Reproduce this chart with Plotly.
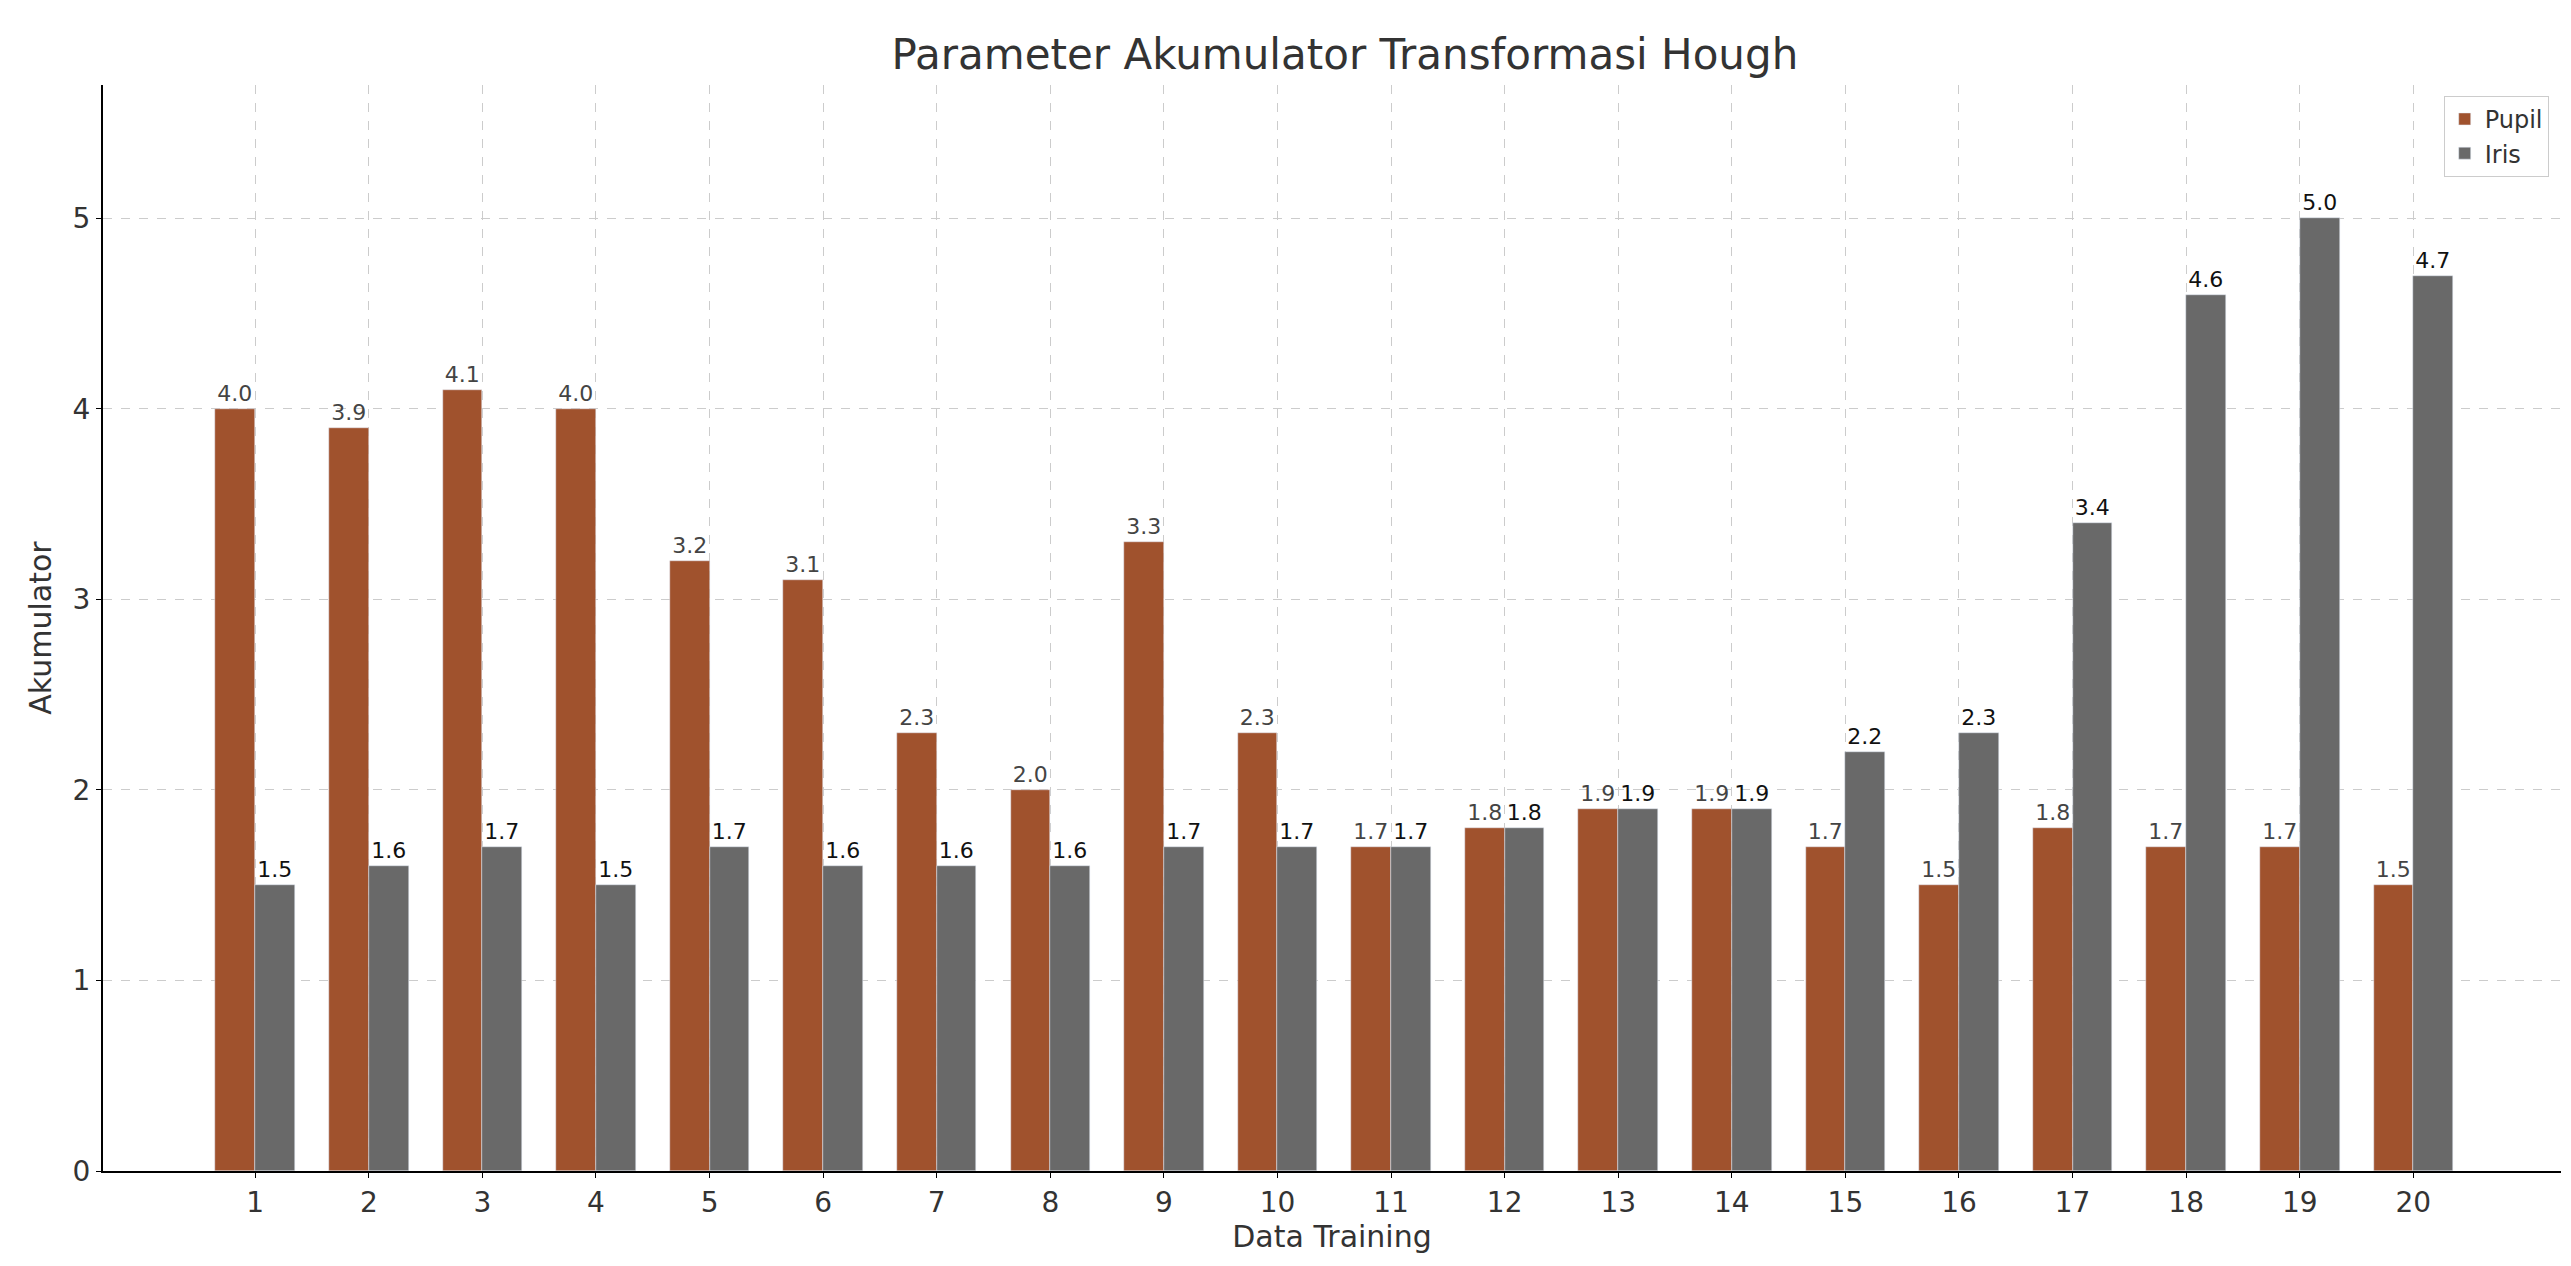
import plotly.graph_objects as go

training = list(range(1, 21))
pupil = [4.0, 3.9, 4.1, 4.0, 3.2, 3.1, 2.3, 2.0, 3.3, 2.3, 1.7, 1.8, 1.9, 1.9, 1.7, 1.5, 1.8, 1.7, 1.7, 1.5]
iris = [1.5, 1.6, 1.7, 1.5, 1.7, 1.6, 1.6, 1.6, 1.7, 1.7, 1.7, 1.8, 1.9, 1.9, 2.2, 2.3, 3.4, 4.6, 5.0, 4.7]

w = 0.35
fig = go.Figure()
fig.add_bar(x=[t - w / 2 for t in training], y=pupil, width=w, name="Pupil",
            marker_color="#A0522D", text=[f"{v:.1f}" for v in pupil],
            textposition="outside", textfont=dict(size=22, color="#444"), cliponaxis=False)
fig.add_bar(x=[t + w / 2 for t in training], y=iris, width=w, name="Iris",
            marker_color="#696969", text=[f"{v:.1f}" for v in iris],
            textposition="outside", textfont=dict(size=22, color="#111"), cliponaxis=False)

fig.update_layout(
    width=2571, height=1266, plot_bgcolor="white", paper_bgcolor="white",
    font=dict(family="DejaVu Sans", color="#333"),
    title=dict(text="Parameter Akumulator Transformasi Hough", x=0.52, y=0.975,
               xanchor="center", font=dict(size=42)),
    margin=dict(l=95, r=18, t=77, b=103),
    barmode="overlay", bargap=0,
    legend=dict(x=0.995, y=0.99, xanchor="right", yanchor="top", font=dict(size=24),
                bordercolor="#ccc", borderwidth=1, bgcolor="rgba(255,255,255,0.8)"),
    uniformtext=dict(mode=False),
)
fig.update_xaxes(tickmode="array", tickvals=training, ticktext=[str(t) for t in training],
                 range=[-0.34, 21.3], showline=True, linecolor="black", linewidth=2,
                 ticks="outside", tickcolor="black", tickfont=dict(size=28),
                 showgrid=True, gridcolor="#cccccc", griddash="dash",
                 title=dict(text="Data Training", font=dict(size=30), standoff=8))
fig.update_yaxes(range=[0, 5.7], dtick=1, showline=True, linecolor="black", linewidth=2,
                 ticks="outside", tickcolor="black", tickfont=dict(size=28),
                 showgrid=True, gridcolor="#cccccc", griddash="dash", zeroline=False,
                 title=dict(text="Akumulator", font=dict(size=30), standoff=12))
fig.write_html("out.html")
